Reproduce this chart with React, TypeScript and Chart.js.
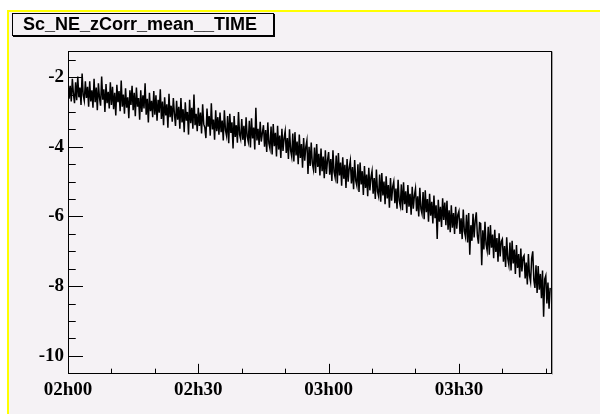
import React, { useEffect, useRef } from "react";
import { Chart, registerables } from "chart.js";

Chart.register(...registerables);

// Title of the histogram pad
const titleText = "Sc_NE_zCorr_mean__TIME";

// Time axis: minutes after 02h00
const startHour = 2;
const stepMinutes = 0.25;
const xMin = 0;
const xMax = 111.2;
const xLabelStep = 30;
const xMinorStep = 10;

// Value axis
const yMin = -10.48;
const yMax = -1.25;
const yLabelStep = 2;
const yMinorStep = 0.5;

// Series values, one every 15 s starting at 02h00
const zCorrMean = [
  -2.10, -2.62, -2.25, -2.70, -2.05, -2.48, -2.75, -2.15, -2.66, -1.98, -2.58, -2.30, -2.80, -1.90, -2.52, -2.68, -2.12, -2.60, -2.28, -2.85,
  -2.12, -2.70, -2.38, -2.88, -2.05, -2.72, -2.30, -2.95, -2.18, -2.60, -2.82, -1.98, -2.65, -2.35, -3.00, -2.20, -2.75, -2.42, -2.90, -2.15,
  -2.80, -2.28, -2.92, -2.45, -3.10, -2.22, -2.72, -2.40, -2.98, -2.10, -2.85, -2.50, -3.05, -2.32, -2.88, -2.58, -3.18, -2.38, -2.80, -2.25,
  -2.95, -2.45, -3.12, -2.30, -2.85, -2.60, -3.22, -2.38, -3.00, -2.52, -2.90, -2.18, -3.08, -2.62, -3.30, -2.45, -2.98, -2.68, -3.15, -2.40,
  -3.08, -2.52, -3.25, -2.65, -3.02, -2.35, -3.20, -2.70, -3.38, -2.58, -3.10, -2.78, -3.45, -2.48, -3.15, -2.82, -3.28, -2.60, -3.05, -3.40,
  -2.68, -3.22, -2.85, -3.48, -2.60, -3.30, -2.92, -3.58, -2.72, -3.25, -3.00, -3.65, -2.65, -3.32, -2.88, -3.48, -2.50, -3.38, -3.05, -3.55,
  -2.88, -3.40, -3.02, -3.62, -2.78, -3.35, -3.45, -3.75, -2.90, -3.42, -3.12, -3.68, -2.75, -3.50, -3.22, -3.80, -2.95, -3.55, -3.15, -3.65,
  -3.02, -3.58, -3.25, -3.82, -2.95, -3.52, -3.68, -3.12, -3.90, -3.05, -3.60, -3.30, -4.05, -3.12, -3.72, -3.38, -3.88, -3.00, -3.65, -3.78,
  -3.20, -3.80, -3.40, -3.98, -3.15, -3.70, -3.85, -3.25, -4.02, -3.18, -3.76, -3.45, -4.08, -2.88, -3.82, -3.48, -3.95, -3.28, -3.85, -3.60,
  -3.38, -4.00, -3.52, -4.15, -3.30, -3.90, -4.05, -3.42, -4.22, -3.35, -3.98, -3.60, -4.28, -3.40, -4.08, -3.68, -4.32, -3.48, -4.12, -3.75,
  -3.55, -4.18, -3.75, -4.35, -3.50, -4.10, -4.28, -3.62, -4.42, -3.58, -4.25, -3.85, -4.50, -3.65, -4.32, -3.92, -4.60, -3.75, -4.40, -4.00,
  -3.82, -4.78, -4.00, -4.55, -3.88, -4.48, -4.65, -4.02, -4.75, -3.92, -4.58, -4.20, -4.82, -4.05, -4.70, -4.28, -4.90, -4.10, -4.78, -4.38,
  -4.15, -4.80, -4.35, -4.98, -4.10, -4.72, -4.88, -4.25, -5.05, -4.18, -4.82, -4.45, -5.12, -4.30, -4.92, -4.52, -5.18, -4.35, -5.00, -4.60,
  -4.40, -5.05, -4.58, -5.22, -4.38, -4.98, -5.12, -4.50, -5.30, -4.45, -5.08, -4.70, -5.38, -4.55, -5.18, -4.80, -5.42, -4.60, -5.25, -4.88,
  -4.70, -5.35, -4.90, -5.50, -4.65, -5.28, -5.42, -4.80, -5.58, -4.75, -5.40, -5.00, -5.65, -4.85, -5.48, -5.10, -5.75, -4.90, -5.55, -5.15,
  -5.00, -5.62, -5.20, -5.78, -4.95, -5.55, -5.70, -5.08, -5.82, -5.02, -5.65, -5.28, -5.90, -5.10, -5.72, -5.35, -5.95, -5.15, -5.78, -5.40,
  -5.20, -5.85, -5.42, -6.00, -5.18, -5.78, -5.92, -5.30, -6.08, -5.25, -5.88, -5.50, -6.15, -5.35, -5.98, -5.58, -6.20, -5.40, -6.05, -5.68,
  -6.65, -5.52, -6.15, -5.72, -6.30, -5.48, -6.10, -5.60, -6.25, -5.55, -6.38, -5.82, -6.45, -5.68, -6.32, -5.90, -6.50, -5.72, -6.35, -5.95,
  -5.85, -6.50, -6.05, -6.65, -5.80, -6.42, -6.58, -5.95, -6.75, -5.90, -7.10, -6.25, -6.70, -5.92, -6.60, -6.12, -5.88, -6.55, -6.78, -6.18,
  -6.20, -7.40, -6.40, -6.95, -6.15, -6.80, -6.98, -6.30, -7.10, -6.25, -6.90, -6.52, -7.20, -6.38, -7.02, -6.62, -7.30, -6.48, -7.15, -6.72,
  -6.65, -7.30, -6.85, -7.45, -6.60, -7.22, -7.40, -6.75, -7.55, -6.70, -7.35, -6.95, -7.65, -6.82, -7.48, -7.08, -7.75, -6.92, -7.58, -7.18,
  -7.12, -7.78, -7.32, -7.95, -7.08, -7.70, -7.88, -7.20, -7.00, -7.82, -8.05, -7.40, -8.20, -7.42, -8.10, -7.65, -8.35, -7.55, -8.88, -7.80,
  -7.70, -8.50, -7.90, -8.65, -8.05,
];

const PAD_BG = "#f5f2f5";

const fmtTime = (m: number) => {
  const h = startHour + Math.floor(m / 60);
  const mm = Math.round(m % 60);
  return String(h).padStart(2, "0") + "h" + String(mm).padStart(2, "0");
};

const frameTicks = {
  id: "frameTicks",
  afterDraw(chart: any) {
    const { ctx, chartArea: a, scales } = chart;
    const xs = scales.x;
    const ys = scales.y;
    const L = Math.round(a.left) + 0.5;
    const R = Math.round(a.right) + 0.5;
    const T = Math.round(a.top) + 0.5;
    const B = Math.round(a.bottom) + 0.5;
    ctx.save();
    ctx.lineWidth = 1;
    ctx.strokeStyle = "#a0a0a0";
    ctx.beginPath();
    ctx.moveTo(R + 1, T);
    ctx.lineTo(R + 1, B + 1);
    ctx.stroke();
    ctx.strokeStyle = "#000";
    ctx.strokeRect(L, T, R - L, B - T);
    const xLen = (B - T) * 0.03;
    const yLen = (R - L) * 0.03;
    ctx.beginPath();
    for (let m = xMin; m <= xMax + 1e-9; m += xMinorStep) {
      const px = Math.round(xs.getPixelForValue(m)) + 0.5;
      const len = Math.abs(m % xLabelStep) < 1e-9 ? xLen : xLen / 2;
      ctx.moveTo(px, B);
      ctx.lineTo(px, B - len);
    }
    const first = Math.ceil(yMin / yMinorStep) * yMinorStep;
    for (let v = first; v <= yMax + 1e-9; v += yMinorStep) {
      const py = Math.round(ys.getPixelForValue(v)) + 0.5;
      const major = Math.abs(v / yLabelStep - Math.round(v / yLabelStep)) < 1e-6;
      ctx.moveTo(L, py);
      ctx.lineTo(L + (major ? yLen : yLen / 2), py);
    }
    ctx.stroke();
    ctx.restore();
  },
};

export default function App() {
  const ref = useRef<HTMLCanvasElement | null>(null);

  useEffect(() => {
    if (!ref.current) return;
    const points = zCorrMean.map((v, i) => ({ x: xMin + i * stepMinutes, y: v }));
    const chart = new Chart(ref.current, {
      type: "line",
      data: {
        datasets: [
          {
            data: points,
            borderColor: "#000",
            borderWidth: 1.5,
            pointRadius: 0,
            tension: 0,
            fill: false,
          },
        ],
      },
      options: {
        responsive: false,
        animation: false,
        events: [],
        layout: { padding: { left: 0, right: 49, top: 51, bottom: 0 } },
        plugins: { legend: { display: false }, tooltip: { enabled: false } },
        scales: {
          x: {
            type: "linear",
            min: xMin,
            max: xMax,
            grid: { display: false, drawTicks: false },
            border: { display: false },
            afterFit: (s: any) => {
              s.height = 41.5;
            },
            ticks: {
              stepSize: xLabelStep,
              includeBounds: false,
              autoSkip: false,
              maxRotation: 0,
              padding: 6,
              color: "#000",
              font: { family: "'Liberation Serif', serif", size: 19, weight: "bold" },
              callback: (v: any) => fmtTime(Number(v)),
            },
          },
          y: {
            type: "linear",
            min: yMin,
            max: yMax,
            grid: { display: false, drawTicks: false },
            border: { display: false },
            afterFit: (s: any) => {
              s.width = 68;
            },
            ticks: {
              stepSize: yLabelStep,
              includeBounds: false,
              padding: 4,
              color: "#000",
              font: { family: "'Liberation Serif', serif", size: 19, weight: "bold" },
              callback: (v: any) => String(Number(v)),
            },
          },
        },
      } as any,
      plugins: [frameTicks],
    });
    return () => chart.destroy();
  }, []);

  return (
    <div style={{ position: "fixed", left: 0, top: 0, width: 600, height: 414, background: "#fff", overflow: "hidden" }}>
      <div
        style={{
          position: "absolute",
          left: 7,
          top: 10,
          right: 0,
          bottom: 0,
          background: PAD_BG,
          borderTop: "2px solid #ffff00",
          borderLeft: "2px solid #ffff00",
        }}
      />
      <canvas ref={ref} width={600} height={414} style={{ position: "absolute", left: 0, top: 0, width: 600, height: 414 }} />
      <div
        style={{
          position: "absolute",
          left: 12,
          top: 13,
          width: 250,
          height: 21,
          paddingLeft: 10,
          border: "1px solid #000",
          boxShadow: "1px 1px 0 #000",
          background: PAD_BG,
          font: "bold 18px 'Liberation Sans', Arial, sans-serif",
          lineHeight: "21px",
          color: "#000",
          whiteSpace: "nowrap",
          boxSizing: "content-box",
        }}
      >
        {titleText}
      </div>
    </div>
  );
}
